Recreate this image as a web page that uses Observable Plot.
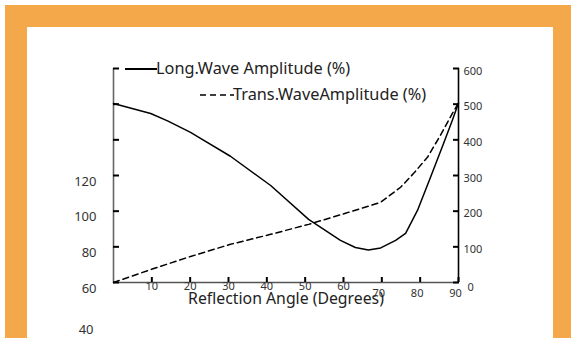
<!DOCTYPE html>
<html>
<head>
<meta charset="utf-8">
<script src="https://cdn.jsdelivr.net/npm/d3@7"></script>
<script src="https://cdn.jsdelivr.net/npm/@observablehq/plot@0.6"></script>
<style>
  html, body { margin: 0; padding: 0; background: #ffffff; width: 571px; height: 338px; overflow: hidden; }
  #orange { position: absolute; left: 5px; top: 5px; width: 566px; height: 333px; background: #F5A84A; }
  #panel { position: absolute; left: 27px; top: 27px; width: 526px; height: 311px; background: #ffffff; }
  #chart { position: absolute; left: 0; top: 0; }
  .leg { position: absolute; font-family: "Noto Sans", sans-serif; font-size: 16.3px; color: #222; white-space: nowrap; line-height: 1; }
  .legline { position: absolute; overflow: visible; }
</style>
</head>
<body>
<div id="orange"></div>
<div id="panel"></div>
<div id="chart"></div>
<svg class="legline" style="left:0;top:0" width="571" height="338">
  <line x1="125" x2="157" y1="69" y2="69" stroke="#000" stroke-width="2"/>
  <line x1="200" x2="234" y1="95" y2="95" stroke="#000" stroke-width="1.6" stroke-dasharray="6,4"/>
</svg>
<div class="leg" id="leg1" style="left:156px; top:60px;">Long.Wave Amplitude (%)</div>
<div class="leg" id="leg2" style="left:233px; top:86px;">Trans.WaveAmplitude (%)</div>
<script>
// Reflection angle (degrees) and amplitudes (%) (right-axis units)
const angleLong = [0, 9.7, 14.1, 20.1, 22.7, 30.5, 41, 50.9, 59.2, 63.1, 66.5, 69.7, 73.6, 76.2, 79.3, 82.7, 86.1, 88.4, 90];
const longAmp   = [502, 474, 453, 421, 404, 354, 272, 177, 118, 98, 91, 97, 118, 138, 202, 295, 390, 455, 503];
const angleTrans = [0, 9.9, 20.1, 30.5, 41, 50.9, 60.5, 69.7, 74.9, 78.3, 81.9, 85.3, 88.4, 90];
const transAmp   = [0, 37, 73, 107, 135, 163, 194, 225, 267, 306, 351, 413, 474, 503];

const yTicks = [0, 100, 200, 300, 400, 500, 600];
const rightLabels = [100, 200, 300, 400, 500, 600];
const rightZeroLabel = [0];
const leftLabels = [120, 100, 80, 60];
const leftLowLabel = [40];
const xTicks = [10, 20, 30, 40, 50, 60, 70, 80, 90];
const xLabelsA = [10, 20, 30, 40, 50, 60];
const xLabelsB = [70, 80, 90];
const xTitle = "Reflection Angle (Degrees)";

const longData = angleLong.map((a, i) => ({angle: a, amp: longAmp[i]}));
const transData = angleTrans.map((a, i) => ({angle: a, amp: transAmp[i]}));

const font = "Noto Sans, sans-serif";
const leftToRight = d => (d - 60) * 5;

const chart = Plot.plot({
  width: 571,
  height: 338,
  marginLeft: 113,
  marginRight: 113,
  marginTop: 68,
  marginBottom: 56,
  style: {background: "transparent", fontFamily: font, color: "#333"},
  x: {domain: [0, 90], axis: null},
  y: {domain: [0, 600], axis: null},
  marks: [
    Plot.ruleX([0], {y1: 0, y2: 600, stroke: "#666", strokeWidth: 1.6}),
    Plot.ruleY([0], {x1: 0, x2: 90, stroke: "#555", strokeWidth: 1.6}),
    Plot.ruleX([90], {y1: 0, y2: 600, stroke: "#000", strokeWidth: 1.6}),
    Plot.axisY({anchor: "left", ticks: yTicks, tickSize: -6, strokeWidth: 2, stroke: "#000", tickFormat: () => "", label: null}),
    Plot.axisY({anchor: "right", ticks: yTicks, tickSize: -6, strokeWidth: 2, stroke: "#000", tickFormat: () => "", label: null}),
    Plot.axisX({anchor: "bottom", ticks: xTicks, tickSize: -5, strokeWidth: 2, stroke: "#000", tickFormat: () => "", label: null}),
    Plot.line(transData, {x: "angle", y: "amp", stroke: "#000", strokeWidth: 1.5, strokeDasharray: "6,4"}),
    Plot.line(longData, {x: "angle", y: "amp", stroke: "#000", strokeWidth: 1.5}),
    Plot.text(leftLabels, {y: leftToRight, text: d => String(d), frameAnchor: "left", textAnchor: "end", dx: -17, dy: 6, fontSize: 13, fill: "#333"}),
    Plot.text(leftLowLabel, {y: leftToRight, text: d => String(d), frameAnchor: "left", textAnchor: "end", dx: -20, dy: 12, fontSize: 13, fill: "#333"}),
    Plot.text(rightLabels, {y: d => d, text: d => String(d), frameAnchor: "right", textAnchor: "start", dx: 5, dy: 2.5, fontSize: 11, fill: "#333"}),
    Plot.text(rightZeroLabel, {y: d => d, text: d => String(d), frameAnchor: "right", textAnchor: "start", dx: 9, dy: 5, fontSize: 11, fill: "#333"}),
    Plot.text(xLabelsA, {x: d => d, text: d => String(d), frameAnchor: "bottom", dy: 7, fontSize: 11, fill: "#333"}),
    Plot.text(xLabelsB, {x: d => d, text: d => String(d), frameAnchor: "bottom", dx: -3, dy: 14, fontSize: 11, fill: "#333"}),
    Plot.text([xTitle], {text: d => d, frameAnchor: "bottom", dy: 21, fontSize: 15.8, fill: "#222"})
  ]
});
document.getElementById("chart").appendChild(chart);
</script>
</body>
</html>
